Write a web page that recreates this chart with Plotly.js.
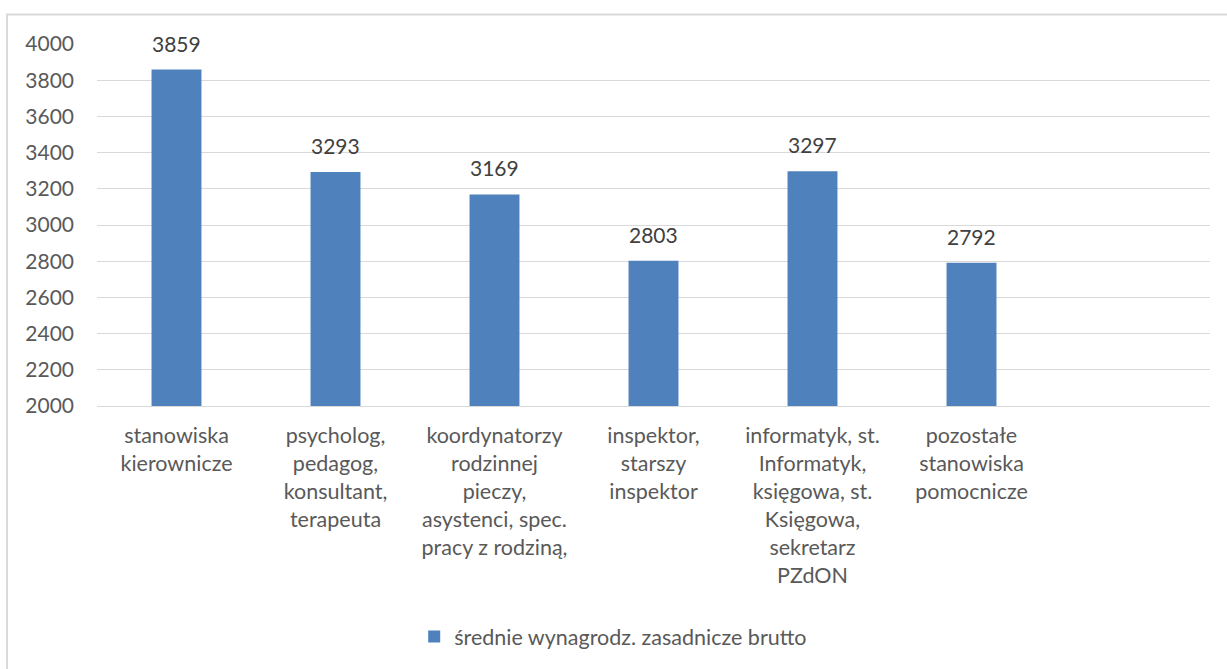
<!DOCTYPE html>
<html>
<head>
<meta charset="utf-8">
<script src="https://cdn.plot.ly/plotly-3.0.1.min.js"></script>
<style>
html,body{margin:0;padding:0;background:#fff;}
#chart{width:1227px;height:669px;}
</style>
</head>
<body>
<div id="chart"></div>
<script>
const categories = [
  "stanowiska<br>kierownicze",
  "psycholog,<br>pedagog,<br>konsultant,<br>terapeuta",
  "koordynatorzy<br>rodzinnej<br>pieczy,<br>asystenci, spec.<br>pracy z rodziną,",
  "inspektor,<br>starszy<br>inspektor",
  "informatyk, st.<br>Informatyk,<br>księgowa, st.<br>Księgowa,<br>sekretarz<br>PZdON",
  "pozostałe<br>stanowiska<br>pomocnicze"
];
const values = [3859, 3293, 3169, 2803, 3297, 2792];
const seriesName = "średnie wynagrodz. zasadnicze brutto";
const yTicks = [2000, 2200, 2400, 2600, 2800, 3000, 3200, 3400, 3600, 3800, 4000];

const FONT = "Lato, 'Open Sans', sans-serif";

const trace = {
  type: "bar",
  x: categories,
  y: values,
  name: seriesName,
  width: 0.314,
  marker: {color: "#4f81bd", line: {width: 0}},
  hoverinfo: "none"
};

const annotations = categories.map((c, i) => ({
  x: c, y: values[i], xref: "x", yref: "y",
  text: String(values[i]),
  showarrow: false,
  yanchor: "bottom",
  yshift: 12,
  font: {family: FONT, size: 21, color: "#404040"}
}));

const layout = {
  width: 1227, height: 669,
  paper_bgcolor: "#ffffff", plot_bgcolor: "#ffffff",
  margin: {l: 97, r: 17, t: 43.5, b: 263, pad: 0},
  font: {family: FONT, size: 21, color: "#595959"},
  showlegend: true,
  legend: {
    orientation: "h",
    x: 0.285, xanchor: "left",
    y: -0.637, yanchor: "middle",
    font: {family: FONT, size: 21.5, color: "#595959"},
    itemwidth: 30,
    bgcolor: "rgba(0,0,0,0)"
  },
  xaxis: {
    type: "category",
    range: [-0.5, 6.5],
    showgrid: false,
    showline: true, linecolor: "#d9d9d9", linewidth: 1,
    ticks: "", tickangle: 0,
    ticklabelstandoff: 10,
    tickfont: {family: FONT, size: 21.5, color: "#595959"},
    fixedrange: true
  },
  yaxis: {
    range: [2000, 4000],
    tickvals: yTicks,
    ticktext: yTicks.map(String),
    showgrid: true, gridcolor: "#d9d9d9", gridwidth: 1,
    zeroline: false, showline: false,
    ticks: "", ticklabelstandoff: 22,
    tickfont: {family: FONT, size: 21, color: "#595959"},
    fixedrange: true
  },
  annotations: annotations,
  shapes: [{
    type: "rect", xref: "paper", yref: "paper",
    x0: -0.0809, x1: 1.1, y0: -1.2, y1: 1.0814,
    line: {color: "#d9d9d9", width: 2},
    fillcolor: "rgba(0,0,0,0)", layer: "below"
  }]
};

Plotly.newPlot("chart", [trace], layout, {displayModeBar: false, staticPlot: true});
</script>
</body>
</html>
